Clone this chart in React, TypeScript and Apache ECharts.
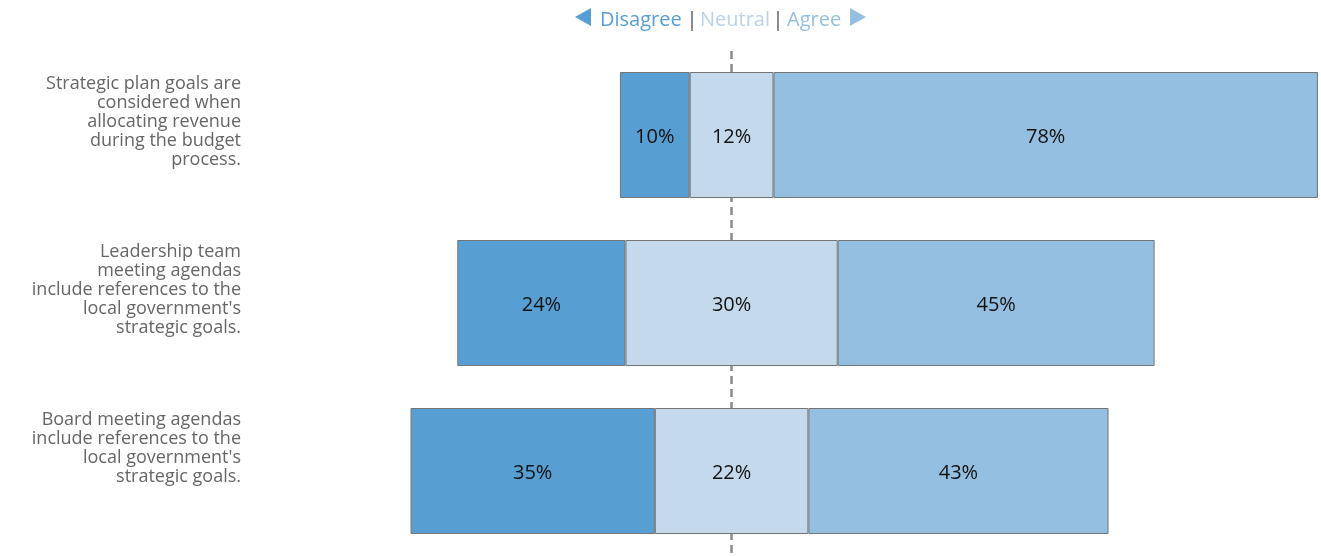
import React, { useEffect, useRef } from "react";
import * as echarts from "echarts";

const categories = [
  "Strategic plan goals are\nconsidered when\nallocating revenue\nduring the budget\nprocess.",
  "Leadership team\nmeeting agendas\ninclude references to the\nlocal government's\nstrategic goals.",
  "Board meeting agendas\ninclude references to the\nlocal government's\nstrategic goals.",
];
const disagree = [10, 24.1, 35];
const neutral = [12, 30.4, 22];
const agree = [78, 45.4, 43];
const center = 70;
const legendItems = ["Disagree", "Neutral", "Agree"];

const COLORS = { disagree: "#579fd3", neutral: "#c4d9ec", agree: "#95bfe0" };
const FONT = "'Open Sans', 'Noto Sans', sans-serif";

export default function App() {
  const ref = useRef<HTMLDivElement>(null);
  useEffect(() => {
    if (!ref.current) return;
    const chart = echarts.init(ref.current, null, { renderer: "svg" });
    const base = disagree.map((d, i) => center - d - neutral[i] / 2);
    const barStyle = (c: string) => ({ color: c, borderColor: "#747474", borderWidth: 1 });
    const lbl = {
      show: true,
      position: "inside",
      color: "#111",
      fontSize: 20,
      fontFamily: FONT,
      formatter: (p: any) => Math.round(p.value) + "%",
    };
    chart.setOption({
      animation: false,
      grid: { left: 243, right: 0, top: 51, bottom: 1, containLabel: false },
      xAxis: { type: "value", min: 0, max: 154.44, show: false },
      yAxis: {
        type: "category",
        data: categories,
        inverse: true,
        axisLine: { show: false },
        axisTick: { show: false },
        axisLabel: { show: false },
      },
      series: [
        {
          type: "bar",
          stack: "s",
          data: base,
          barCategoryGap: "25%",
          itemStyle: { color: "transparent" },
          silent: true,
          z: 1,
          markLine: {
            z: 1,
            silent: true,
            symbol: "none",
            label: { show: false },
            lineStyle: { color: "#8a8a8a", type: [8, 5], width: 2.5 },
            data: [{ xAxis: center }],
          },
        },
        { type: "bar", stack: "s", name: legendItems[0], data: disagree, itemStyle: barStyle(COLORS.disagree), label: lbl, z: 3 },
        { type: "bar", stack: "s", name: legendItems[1], data: neutral, itemStyle: barStyle(COLORS.neutral), label: lbl, z: 3 },
        { type: "bar", stack: "s", name: legendItems[2], data: agree, itemStyle: barStyle(COLORS.agree), label: lbl, z: 3 },
      ],
    });
    const bandHalf = 63;
    const texts = categories.map((c) => {
      const cy = chart.convertToPixel({ yAxisIndex: 0 }, c) as number;
      return {
        type: "text",
        x: 241,
        y: cy - bandHalf,
        style: {
          text: c,
          textAlign: "right",
          textVerticalAlign: "top",
          fill: "#666",
          fontSize: 18,
          lineHeight: 19,
          fontFamily: FONT,
        },
      };
    });
    const legendText = (text: string, x: number, fill: string, align = "left") => ({
      type: "text",
      x,
      y: 18,
      style: { text, fill, fontSize: 20, fontFamily: FONT, textAlign: align, textVerticalAlign: "middle" },
    });
    chart.setOption({
      graphic: [
        ...texts,
        { type: "polygon", shape: { points: [[575, 17], [591, 8], [591, 26]] }, style: { fill: COLORS.disagree } },
        legendText(legendItems[0], 600, COLORS.disagree),
        legendText("|", 692, "#555", "center"),
        legendText(legendItems[1], 700, "#b8d2ea"),
        legendText("|", 778, "#555", "center"),
        legendText(legendItems[2], 787, COLORS.agree),
        { type: "polygon", shape: { points: [[850, 8], [866, 17], [850, 26]] }, style: { fill: COLORS.agree } },
      ],
    });
    return () => chart.dispose();
  }, []);
  return <div ref={ref} style={{ position: "fixed", left: 0, top: 0, width: 1321, height: 556 }} />;
}
